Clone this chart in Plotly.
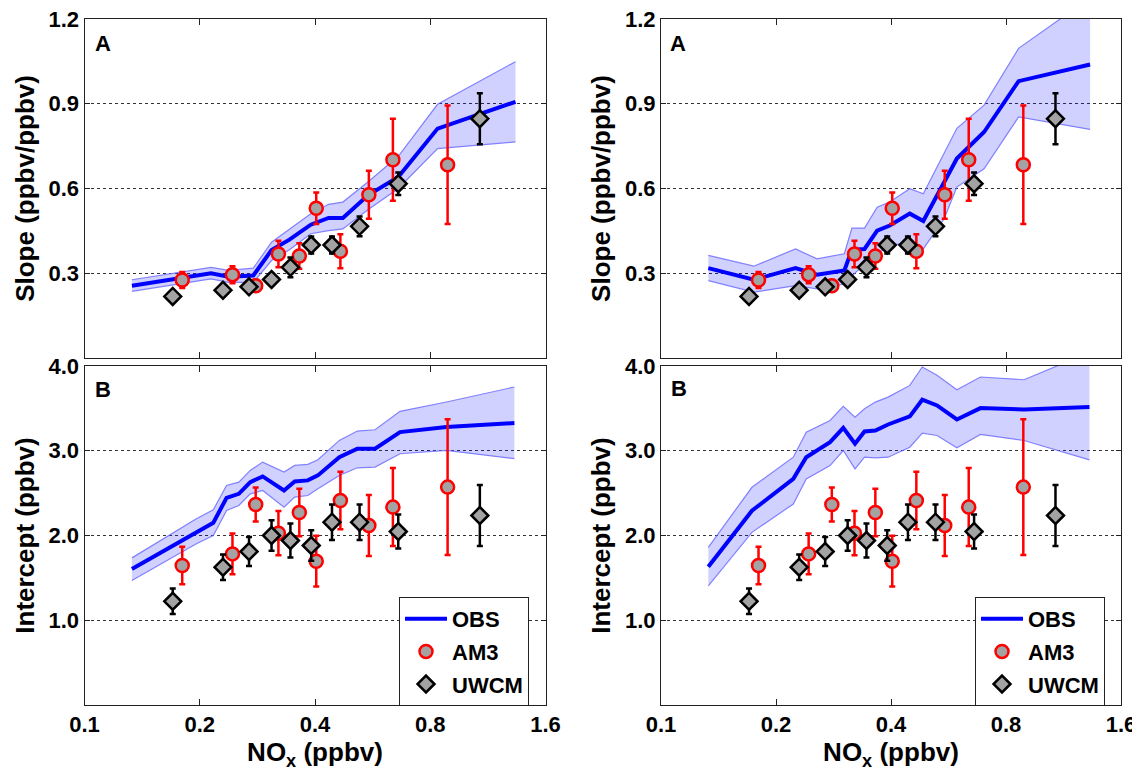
import math
import plotly.graph_objects as go

# ---------------- data ----------------
x_tickvals = [0.1, 0.2, 0.4, 0.8, 1.6]
x_ticktext = ["0.1", "0.2", "0.4", "0.8", "1.6"]
slope_ticks = [0.3, 0.6, 0.9, 1.2]
slope_ticktext = ["0.3", "0.6", "0.9", "1.2"]
int_ticks = [1.0, 2.0, 3.0, 4.0]
int_ticktext = ["1.0", "2.0", "3.0", "4.0"]

# AM3 model (same in both columns)
am3_x = [0.180, 0.2435, 0.280, 0.321, 0.364, 0.403, 0.466, 0.553, 0.639, 0.888]
am3_slope = [0.276, 0.295, 0.256, 0.368, 0.361, 0.530, 0.378, 0.578, 0.702, 0.684]
am3_slope_err = [0.028, 0.030, 0.020, 0.047, 0.045, 0.056, 0.060, 0.085, 0.145, 0.210]
am3_int = [1.646, 1.783, 2.366, 2.028, 2.272, 1.697, 2.413, 2.118, 2.335, 2.571]
am3_int_err = [0.22, 0.24, 0.20, 0.26, 0.28, 0.30, 0.34, 0.36, 0.46, 0.80]

# UWCM model (same in both columns)
uwcm_x = [0.170, 0.230, 0.269, 0.308, 0.345, 0.391, 0.443, 0.523, 0.660, 1.078]
uwcm_slope = [0.218, 0.240, 0.252, 0.278, 0.321, 0.400, 0.400, 0.466, 0.617, 0.847]
uwcm_slope_err = [0.012, 0.012, 0.015, 0.020, 0.035, 0.030, 0.030, 0.035, 0.040, 0.090]
uwcm_int = [1.224, 1.626, 1.811, 2.000, 1.941, 1.882, 2.157, 2.157, 2.047, 2.236]
uwcm_int_err = [0.15, 0.15, 0.17, 0.18, 0.20, 0.18, 0.21, 0.21, 0.20, 0.36]

# OBS, left column, slope
obs_l_slope_x = [0.133, 0.214, 0.238, 0.276, 0.308, 0.343, 0.390, 0.434, 0.473, 0.550, 0.660, 0.836, 1.336]
obs_l_slope = [0.256, 0.300, 0.288, 0.292, 0.382, 0.419, 0.472, 0.496, 0.496, 0.576, 0.641, 0.812, 0.907]
obs_l_slope_hi = [0.277, 0.321, 0.310, 0.318, 0.410, 0.455, 0.511, 0.544, 0.552, 0.623, 0.714, 0.898, 1.049]
obs_l_slope_lo = [0.236, 0.280, 0.268, 0.268, 0.345, 0.383, 0.440, 0.451, 0.457, 0.525, 0.600, 0.741, 0.765]

# OBS, right column, slope
obs_r_slope_x = [0.133, 0.175, 0.225, 0.256, 0.302, 0.316, 0.341, 0.368, 0.397, 0.448, 0.486, 0.551, 0.595, 0.701, 0.863, 1.328]
obs_r_slope = [0.318, 0.277, 0.318, 0.295, 0.310, 0.383, 0.386, 0.451, 0.469, 0.511, 0.485, 0.623, 0.706, 0.800, 0.980, 1.039]
obs_r_slope_hi = [0.363, 0.325, 0.386, 0.351, 0.369, 0.460, 0.460, 0.534, 0.552, 0.599, 0.581, 0.724, 0.813, 0.895, 1.096, 1.275]
obs_r_slope_lo = [0.274, 0.233, 0.256, 0.245, 0.262, 0.290, 0.333, 0.369, 0.398, 0.410, 0.386, 0.493, 0.605, 0.670, 0.853, 0.809]

# OBS, left column, intercept
obs_l_int_x = [0.133, 0.196, 0.217, 0.235, 0.253, 0.271, 0.292, 0.332, 0.354, 0.383, 0.407, 0.463, 0.516, 0.574, 0.667, 0.882, 1.327]
obs_l_int = [1.606, 2.039, 2.150, 2.445, 2.492, 2.630, 2.697, 2.531, 2.638, 2.650, 2.709, 2.925, 3.024, 3.024, 3.220, 3.280, 3.327]
obs_l_int_hi = [1.736, 2.197, 2.303, 2.591, 2.630, 2.768, 2.866, 2.748, 2.827, 2.839, 2.894, 3.122, 3.232, 3.248, 3.465, 3.575, 3.752]
obs_l_int_lo = [1.469, 1.902, 2.000, 2.295, 2.354, 2.492, 2.531, 2.335, 2.453, 2.472, 2.551, 2.709, 2.799, 2.807, 2.965, 3.004, 2.906]

# OBS, right column, intercept
obs_r_int_x = [0.133, 0.173, 0.222, 0.240, 0.277, 0.300, 0.322, 0.341, 0.364, 0.393, 0.448, 0.483, 0.528, 0.595, 0.686, 0.892, 1.323]
obs_r_int = [1.631, 2.293, 2.668, 2.924, 3.101, 3.271, 3.082, 3.227, 3.239, 3.310, 3.405, 3.602, 3.535, 3.369, 3.503, 3.488, 3.515]
obs_r_int_hi = [1.860, 2.569, 2.924, 3.220, 3.357, 3.523, 3.397, 3.495, 3.574, 3.633, 3.771, 3.988, 3.890, 3.720, 3.870, 3.838, 4.160]
obs_r_int_lo = [1.406, 2.037, 2.372, 2.668, 2.825, 3.003, 2.786, 2.924, 2.916, 2.924, 3.042, 3.208, 3.180, 3.034, 3.192, 3.121, 2.892]

# ---------------- styling ----------------
OFF = 8                      # default page body margin
W, H = 1140 - OFF, 771 - OFF  # figure size so that the page fits the window
FONT = "Arial, 'Liberation Sans', sans-serif"
BAND_FILL = "rgba(0,0,255,0.18)"
BAND_EDGE = "rgba(110,110,255,0.85)"
OBS_COL = "#0000ff"
GRAY = "#a3a3a3"


def fx(p):
    # p: pixel position in the window
    return (p - OFF) / W


def fy(p):
    return 1 - (p - OFF) / H


fig = go.Figure()

panels = [
    ("x", "y", obs_l_slope_x, obs_l_slope, obs_l_slope_lo, obs_l_slope_hi,
     am3_slope, am3_slope_err, uwcm_slope, uwcm_slope_err, None),
    ("x2", "y2", obs_r_slope_x, obs_r_slope, obs_r_slope_lo, obs_r_slope_hi,
     am3_slope, am3_slope_err, uwcm_slope, uwcm_slope_err, None),
    ("x3", "y3", obs_l_int_x, obs_l_int, obs_l_int_lo, obs_l_int_hi,
     am3_int, am3_int_err, uwcm_int, uwcm_int_err, "legend"),
    ("x4", "y4", obs_r_int_x, obs_r_int, obs_r_int_lo, obs_r_int_hi,
     am3_int, am3_int_err, uwcm_int, uwcm_int_err, "legend2"),
]

for xa, ya, ox, oy, olo, ohi, ay, ae, uy, ue, leg in panels:
    show = leg is not None
    lg = leg if leg else "legend"
    fig.add_trace(go.Scatter(x=ox, y=olo, xaxis=xa, yaxis=ya, mode="lines",
                             line=dict(color=BAND_EDGE, width=1.2),
                             showlegend=False, hoverinfo="skip"))
    fig.add_trace(go.Scatter(x=ox, y=ohi, xaxis=xa, yaxis=ya, mode="lines",
                             line=dict(color=BAND_EDGE, width=1.2),
                             fill="tonexty", fillcolor=BAND_FILL,
                             showlegend=False, hoverinfo="skip"))
    fig.add_trace(go.Scatter(x=ox, y=oy, xaxis=xa, yaxis=ya, mode="lines",
                             name="OBS", line=dict(color=OBS_COL, width=4),
                             showlegend=show, legend=lg,
                             legendgroup=f"obs_{xa}"))
    fig.add_trace(go.Scatter(x=am3_x, y=ay, xaxis=xa, yaxis=ya, mode="markers",
                             name="AM3",
                             marker=dict(symbol="circle", size=13, color=GRAY,
                                         line=dict(color="#ff0000", width=2.5)),
                             error_y=dict(type="data", array=ae, visible=True,
                                          color="#ff0000", thickness=2.5, width=3),
                             showlegend=show, legend=lg,
                             legendgroup=f"am3_{xa}"))
    fig.add_trace(go.Scatter(x=uwcm_x, y=uy, xaxis=xa, yaxis=ya, mode="markers",
                             name="UWCM",
                             marker=dict(symbol="diamond", size=13, color=GRAY,
                                         line=dict(color="#000000", width=2.5)),
                             error_y=dict(type="data", array=ue, visible=True,
                                          color="#000000", thickness=2.5, width=3),
                             showlegend=show, legend=lg,
                             legendgroup=f"uwcm_{xa}"))

# ---------------- axes ----------------
xl = [fx(84.5), fx(545.5)]
xr = [fx(661), fx(1121)]
yt = [fy(358), fy(19)]
yb = [fy(705), fy(366)]

tickfont = dict(family=FONT, size=22, color="black", weight="bold")
titlefont = dict(family=FONT, size=26, color="black", weight="bold")
LINE = "#222222"


def xcfg(dom, anchor, labels):
    d = dict(domain=dom, anchor=anchor, type="log",
             range=[-1, math.log10(1.6)],
             tickmode="array", tickvals=x_tickvals, ticktext=x_ticktext,
             showticklabels=labels, ticks="inside", ticklen=6, tickwidth=1,
             tickcolor=LINE, showline=True, linecolor=LINE, linewidth=1,
             mirror="ticks", showgrid=False, zeroline=False,
             tickfont=tickfont, automargin=False, ticklabeloverflow="allow")
    if labels:
        d["title"] = dict(text="NO<sub>x</sub> (ppbv)", font=titlefont, standoff=0)
    return d


def ycfg(dom, anchor, rng, tv, tt, title):
    return dict(domain=dom, anchor=anchor, range=rng,
                tickmode="array", tickvals=tv, ticktext=tt,
                ticks="inside", ticklen=5, tickwidth=1, tickcolor=LINE,
                showline=True, linecolor=LINE, linewidth=1, mirror="ticks",
                showgrid=True, gridcolor="#333333", gridwidth=1,
                griddash="3px,3px", zeroline=False,
                tickfont=tickfont, automargin=False, ticklabeloverflow="allow",
                title=dict(text=title, font=titlefont, standoff=6))


legend_common = dict(xanchor="left", yanchor="top",
                     bgcolor="white", bordercolor="#222222", borderwidth=1,
                     font=dict(family=FONT, size=22, color="black", weight="bold"),
                     traceorder="grouped", tracegroupgap=1, itemwidth=42)

fig.update_layout(
    width=W, height=H, autosize=False,
    margin=dict(l=0, r=0, t=0, b=0),
    paper_bgcolor="white", plot_bgcolor="white",
    font=dict(family=FONT, color="black"),
    xaxis=xcfg(xl, "y", False),
    xaxis2=xcfg(xr, "y2", False),
    xaxis3=xcfg(xl, "y3", True),
    xaxis4=xcfg(xr, "y4", True),
    yaxis=ycfg(yt, "x", [0, 1.2], slope_ticks, slope_ticktext, "Slope (ppbv/ppbv)"),
    yaxis2=ycfg(yt, "x2", [0, 1.2], slope_ticks, slope_ticktext, "Slope (ppbv/ppbv)"),
    yaxis3=ycfg(yb, "x3", [0, 4.0], int_ticks, int_ticktext, "Intercept (ppbv)"),
    yaxis4=ycfg(yb, "x4", [0, 4.0], int_ticks, int_ticktext, "Intercept (ppbv)"),
    legend=dict(x=fx(399), y=fy(597), **legend_common),
    legend2=dict(x=fx(975), y=fy(597), **legend_common),
    showlegend=True,
)

labels = [("A", 102.7, 43.5), ("A", 678, 43.5), ("B", 102.7, 389), ("B", 679, 388)]
for t, px, py in labels:
    fig.add_annotation(text=t, x=fx(px), y=fy(py), xref="paper", yref="paper",
                       xanchor="center", yanchor="middle", showarrow=False,
                       font=dict(family=FONT, size=22, color="black", weight="bold"))

fig.write_html("out.html")
